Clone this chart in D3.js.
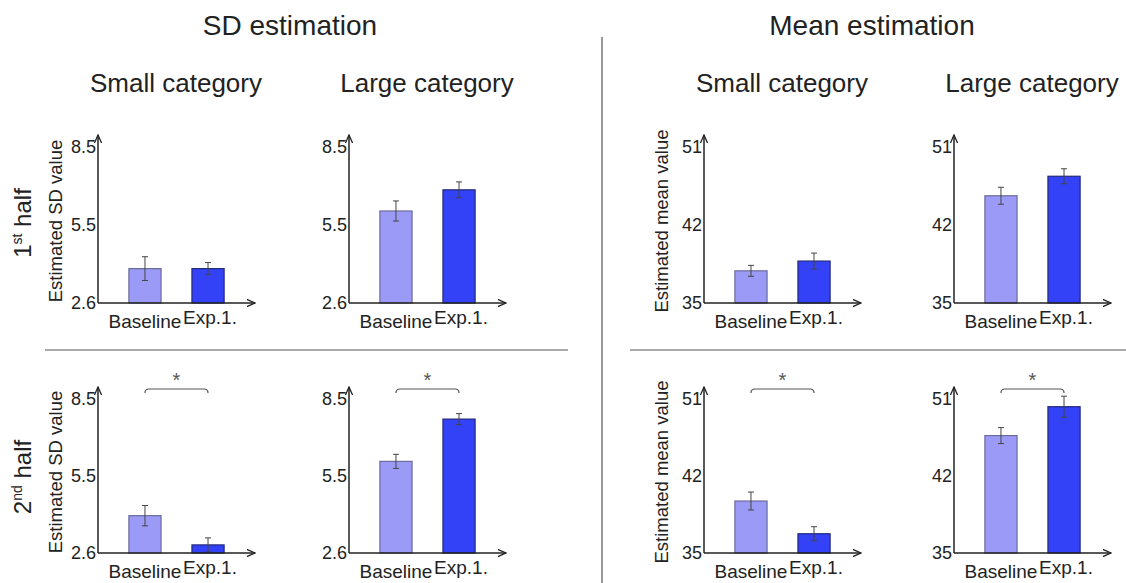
<!DOCTYPE html>
<html lang="en">

<head>
    <meta charset="UTF-8">
    <title>SD and mean estimation</title>
    <script src="https://cdn.jsdelivr.net/npm/d3@7"></script>
    <style>
        body { margin: 0; background: #fff; }
        text { font-family: "Liberation Sans", Arial, Helvetica, sans-serif; fill: #222; }
    </style>
</head>

<body>
    <script>
    // data
    var measures = ["SD estimation", "Mean estimation"];
    var sizes = ["Small category", "Large category"];
    var halves = ["1st half", "2nd half"];
    var conditions = ["Baseline", "Exp.1."];

    var sdDomain = [2.6, 8.5];
    var sdTickLabels = ["2.6", "5.5", "8.5"];
    var meanDomain = [35, 51];
    var meanTickLabels = ["35", "42", "51"];

    // [baseline, exp.1] per half
    var sdSmall1 = [3.90, 3.90], sdSmall1Err = [0.45, 0.23];
    var sdLarge1 = [6.08, 6.88], sdLarge1Err = [0.38, 0.30];
    var sdSmall2 = [4.03, 2.91], sdSmall2Err = [0.39, 0.27];
    var sdLarge2 = [6.11, 7.73], sdLarge2Err = [0.27, 0.21];
    var meanSmall1 = [38.3, 39.3], meanSmall1Err = [0.56, 0.82];
    var meanLarge1 = [46.0, 48.0], meanLarge1Err = [0.87, 0.77];
    var meanSmall2 = [40.4, 37.0], meanSmall2Err = [0.93, 0.73];
    var meanLarge2 = [47.2, 50.2], meanLarge2Err = [0.83, 1.09];

    var width = 1126, height = 583;
    var svg = d3.select("body").append("svg").attr("width", width).attr("height", height);

    var defs = svg.append("defs");
    defs.append("marker")
        .attr("id", "arrow")
        .attr("viewBox", "0 0 10 10")
        .attr("refX", 9).attr("refY", 5)
        .attr("markerWidth", 9).attr("markerHeight", 9)
        .attr("markerUnits", "userSpaceOnUse")
        .attr("orient", "auto")
        .append("path")
        .attr("d", "M0,1 L9,5 L0,9")
        .attr("fill", "none")
        .attr("stroke", "#222")
        .attr("stroke-width", 1.4);

    var panelX = [98, 349, 704, 954];
    var rowY = [[303, 147], [553, 399]];
    var barFill = ["#9b9bf7", "#3342f7"];
    var barStroke = ["#6b6b9c", "#23287a"];

    // m = measure, s = size, h = half; 2nd half pairs are marked significant
    var panels = [
        { m: 0, s: 0, h: 0, v: sdSmall1, e: sdSmall1Err },
        { m: 0, s: 1, h: 0, v: sdLarge1, e: sdLarge1Err },
        { m: 1, s: 0, h: 0, v: meanSmall1, e: meanSmall1Err },
        { m: 1, s: 1, h: 0, v: meanLarge1, e: meanLarge1Err },
        { m: 0, s: 0, h: 1, v: sdSmall2, e: sdSmall2Err },
        { m: 0, s: 1, h: 1, v: sdLarge2, e: sdLarge2Err },
        { m: 1, s: 0, h: 1, v: meanSmall2, e: meanSmall2Err },
        { m: 1, s: 1, h: 1, v: meanLarge2, e: meanLarge2Err }
    ];

    var x = d3.scaleBand().domain(conditions).range([0, 157]).paddingInner(0.49).paddingOuter(0.49);

    panels.forEach(function(p) {
        var dom = p.m == 0 ? sdDomain : meanDomain;
        var labels = p.m == 0 ? sdTickLabels : meanTickLabels;
        var y = d3.scaleLinear().domain(dom).range(rowY[p.h]);
        var g = svg.append("g").attr("transform", "translate(" + panelX[p.m * 2 + p.s] + ",0)");

        // bars
        g.selectAll("rect").data(p.v).enter().append("rect")
            .attr("x", function(d, i) { return x(conditions[i]); })
            .attr("y", function(d) { return y(d); })
            .attr("width", x.bandwidth())
            .attr("height", function(d) { return y(dom[0]) - y(d); })
            .attr("fill", function(d, i) { return barFill[i]; })
            .attr("stroke", function(d, i) { return barStroke[i]; })
            .attr("stroke-width", 1.2);

        // error bars
        var eb = g.selectAll(".err").data(p.v).enter().append("g").attr("class", "err")
            .attr("stroke", "#444").attr("stroke-width", 1);
        eb.append("line")
            .attr("x1", function(d, i) { return x(conditions[i]) + x.bandwidth() / 2; })
            .attr("x2", function(d, i) { return x(conditions[i]) + x.bandwidth() / 2; })
            .attr("y1", function(d, i) { return y(d - p.e[i]); })
            .attr("y2", function(d, i) { return y(d + p.e[i]); });
        [-1, 1].forEach(function(sgn) {
            eb.append("line")
                .attr("x1", function(d, i) { return x(conditions[i]) + x.bandwidth() / 2 - 3; })
                .attr("x2", function(d, i) { return x(conditions[i]) + x.bandwidth() / 2 + 3; })
                .attr("y1", function(d, i) { return y(d + sgn * p.e[i]); })
                .attr("y2", function(d, i) { return y(d + sgn * p.e[i]); });
        });

        // axes with arrows
        var y0 = y(dom[0]);
        g.append("line").attr("x1", 0).attr("x2", 0).attr("y1", y0).attr("y2", y(dom[1]) - 12)
            .attr("stroke", "#222").attr("stroke-width", 1.5).attr("marker-end", "url(#arrow)");
        g.append("line").attr("x1", 0).attr("x2", x.range()[1]).attr("y1", y0).attr("y2", y0)
            .attr("stroke", "#222").attr("stroke-width", 1.5).attr("marker-end", "url(#arrow)");

        var ticks = [dom[0], (dom[0] + dom[1]) / 2, dom[1]];
        g.selectAll(".tick").data(ticks).enter().append("text")
            .attr("class", "tick")
            .attr("x", -2)
            .attr("y", function(d) { return y(d); })
            .attr("dy", "0.36em")
            .attr("text-anchor", "end")
            .attr("font-size", 18)
            .text(function(d, i) { return labels[i]; });

        // category labels
        g.selectAll(".cat").data(conditions).enter().append("text")
            .attr("class", "cat")
            .attr("x", function(d, i) { return x(d) + x.bandwidth() / 2 + (i == 0 ? 0 : 2); })
            .attr("y", function(d, i) { return y0 + (i == 0 ? 25 : 21); })
            .attr("text-anchor", "middle")
            .attr("font-size", 19)
            .text(function(d) { return d; });

        // y title only on small category panels
        if (p.s == 0) {
            var cy = (rowY[p.h][0] + rowY[p.h][1]) / 2 - 4;
            g.append("text")
                .attr("transform", "translate(-36," + cy + ") rotate(-90)")
                .attr("text-anchor", "middle")
                .attr("font-size", 18.5)
                .text(p.m == 0 ? "Estimated SD value" : "Estimated mean value");
        }

        // significance bracket
        if (p.h == 1) {
            var bx0 = x(conditions[0]) + x.bandwidth() / 2;
            var bx1 = x(conditions[1]) + x.bandwidth() / 2;
            var by = y(dom[1]) - 10;
            g.append("path")
                .attr("d", "M" + bx0 + "," + (by + 4) + " Q" + bx0 + "," + by + " " + (bx0 + 4) + "," + by +
                    " L" + (bx1 - 4) + "," + by + " Q" + bx1 + "," + by + " " + bx1 + "," + (by + 4))
                .attr("fill", "none").attr("stroke", "#555").attr("stroke-width", 1.2);
            g.append("text")
                .attr("x", (bx0 + bx1) / 2)
                .attr("y", by - 2)
                .attr("text-anchor", "middle")
                .attr("font-size", 20)
                .style("fill", "#555")
                .text("*");
        }
    });

    // column titles
    svg.selectAll(".measure").data(measures).enter().append("text")
        .attr("x", function(d, i) { return i == 0 ? 290 : 872; })
        .attr("y", 35)
        .attr("text-anchor", "middle")
        .attr("font-size", 28)
        .text(function(d) { return d; });

    svg.selectAll(".size").data([0, 1, 2, 3]).enter().append("text")
        .attr("x", function(d) { return panelX[d] + 78; })
        .attr("y", 92)
        .attr("text-anchor", "middle")
        .attr("font-size", 26)
        .text(function(d) { return sizes[d % 2]; });

    // row labels with superscripts
    var rowCenter = [223, 477];
    halves.forEach(function(h, i) {
        var t = svg.append("text")
            .attr("transform", "translate(31," + rowCenter[i] + ") rotate(-90)")
            .attr("text-anchor", "middle")
            .attr("font-size", 24);
        t.append("tspan").text(h.slice(0, 1));
        t.append("tspan").attr("font-size", 14).attr("dy", -9).text(h.slice(1, 3));
        t.append("tspan").attr("dy", 9).text(" " + h.slice(4));
    });

    // separators
    svg.append("line").attr("x1", 602).attr("x2", 602).attr("y1", 37).attr("y2", height)
        .attr("stroke", "#999").attr("stroke-width", 2);
    svg.append("line").attr("x1", 45).attr("x2", 568).attr("y1", 350).attr("y2", 350)
        .attr("stroke", "#aaa").attr("stroke-width", 2);
    svg.append("line").attr("x1", 630).attr("x2", width).attr("y1", 350).attr("y2", 350)
        .attr("stroke", "#aaa").attr("stroke-width", 2);
    </script>

</body>

</html>
